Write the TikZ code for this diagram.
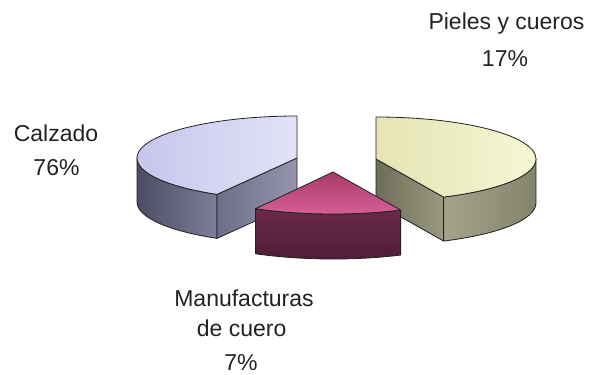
\documentclass[tikz,border=0pt]{standalone}
\usepackage{fontspec}
\setmainfont{Liberation Sans}
\definecolor{calTopA}{HTML}{C2C2EC}
\definecolor{calTopB}{HTML}{E2E2F8}
\definecolor{calSideA}{HTML}{4C4C64}
\definecolor{calSideB}{HTML}{7E7E98}
\definecolor{calRadA}{HTML}{6E6E88}
\definecolor{calRadB}{HTML}{9494AC}
\definecolor{pieTopA}{HTML}{E4E4B4}
\definecolor{pieTopB}{HTML}{F6F6D4}
\definecolor{pieSideA}{HTML}{A4A48C}
\definecolor{pieSideB}{HTML}{84846C}
\definecolor{pieRadA}{HTML}{6E6E58}
\definecolor{pieRadB}{HTML}{9A9A82}
\definecolor{manTopA}{HTML}{A83A66}
\definecolor{manTopB}{HTML}{D8609A}
\definecolor{manSideA}{HTML}{6A2A48}
\definecolor{manSideB}{HTML}{4E1C36}
\definecolor{ink}{HTML}{222222}
\begin{document}
\begin{tikzpicture}[x=1pt,y=-1pt,
  edge/.style={draw=ink, line width=0.8pt, line join=round},
  ell/.style={x radius=160, y radius=42},
  lbl/.style={anchor=base, inner sep=0pt, font=\fontsize{23}{28}\selectfont, text=ink}]
\useasboundingbox (0,0) rectangle (592,375);
% ---------- Calzado ----------
\coordinate (cB) at (297,158);
\path (cB) ++(120:160 and 42) coordinate (cC);
\path (cB) ++(180:160 and 42) coordinate (cL);
\path (cB) ++(0,44) coordinate (cBb);
\path (cC) ++(0,44) coordinate (cCb);
\shade[edge, left color=calSideA, right color=calSideB]
  (cL) arc[start angle=180, end angle=120, ell]
  -- (cCb) arc[start angle=120, end angle=180, ell] -- cycle;
\shade[edge, left color=calRadA, right color=calRadB]
  (cB) -- (cC) -- (cCb) -- (cBb) -- cycle;
\shade[edge, shading angle=60, left color=calTopA, right color=calTopB]
  (cB) -- (cC) arc[start angle=120, end angle=270, ell] -- cycle;
% ---------- Pieles y cueros ----------
\coordinate (pB) at (376,159);
\path (pB) ++(65:160 and 42) coordinate (pC);
\path (pB) ++(-90:160 and 42) coordinate (pA);
\path (pB) ++(0,44) coordinate (pBb);
\path (pC) ++(0,44) coordinate (pCb);
\shade[edge, left color=pieRadA, right color=pieRadB]
  (pB) -- (pC) -- (pCb) -- (pBb) -- cycle;
\shade[edge, left color=pieSideA, right color=pieSideB]
  (pC) arc[start angle=65, end angle=0, ell]
  -- ++(0,44) arc[start angle=0, end angle=65, ell] -- cycle;
\shade[edge, shading angle=-60, left color=pieTopA, right color=pieTopB]
  (pB) -- (pA) arc[start angle=-90, end angle=65, ell] -- cycle;
% ---------- Manufacturas de cuero ----------
\coordinate (mM) at (333,172);
\path (mM) ++(119:160 and 42) coordinate (mL);
\shade[edge, top color=manSideA, bottom color=manSideB]
  (mL) arc[start angle=119, end angle=65, ell]
  -- ++(0,45) arc[start angle=65, end angle=119, ell] -- cycle;
\shade[edge, top color=manTopA, bottom color=manTopB]
  (mM) -- (mL) arc[start angle=119, end angle=65, ell] -- cycle;
% ---------- Labels ----------
\node[lbl] (calz1) at (56,141.5) {Calzado};
\node[lbl] (calz2) at (56.5,175) {76\%};
\node[lbl] (piel1) at (506.5,29.5) {Pieles y cueros};
\node[lbl] (piel2) at (505,66.5) {17\%};
\node[lbl] (manu1) at (244,306) {Manufacturas};
\node[lbl] (manu2) at (241.7,336.5) {de cuero};
\node[lbl] (manu3) at (241,370) {7\%};
\end{tikzpicture}
\end{document}
